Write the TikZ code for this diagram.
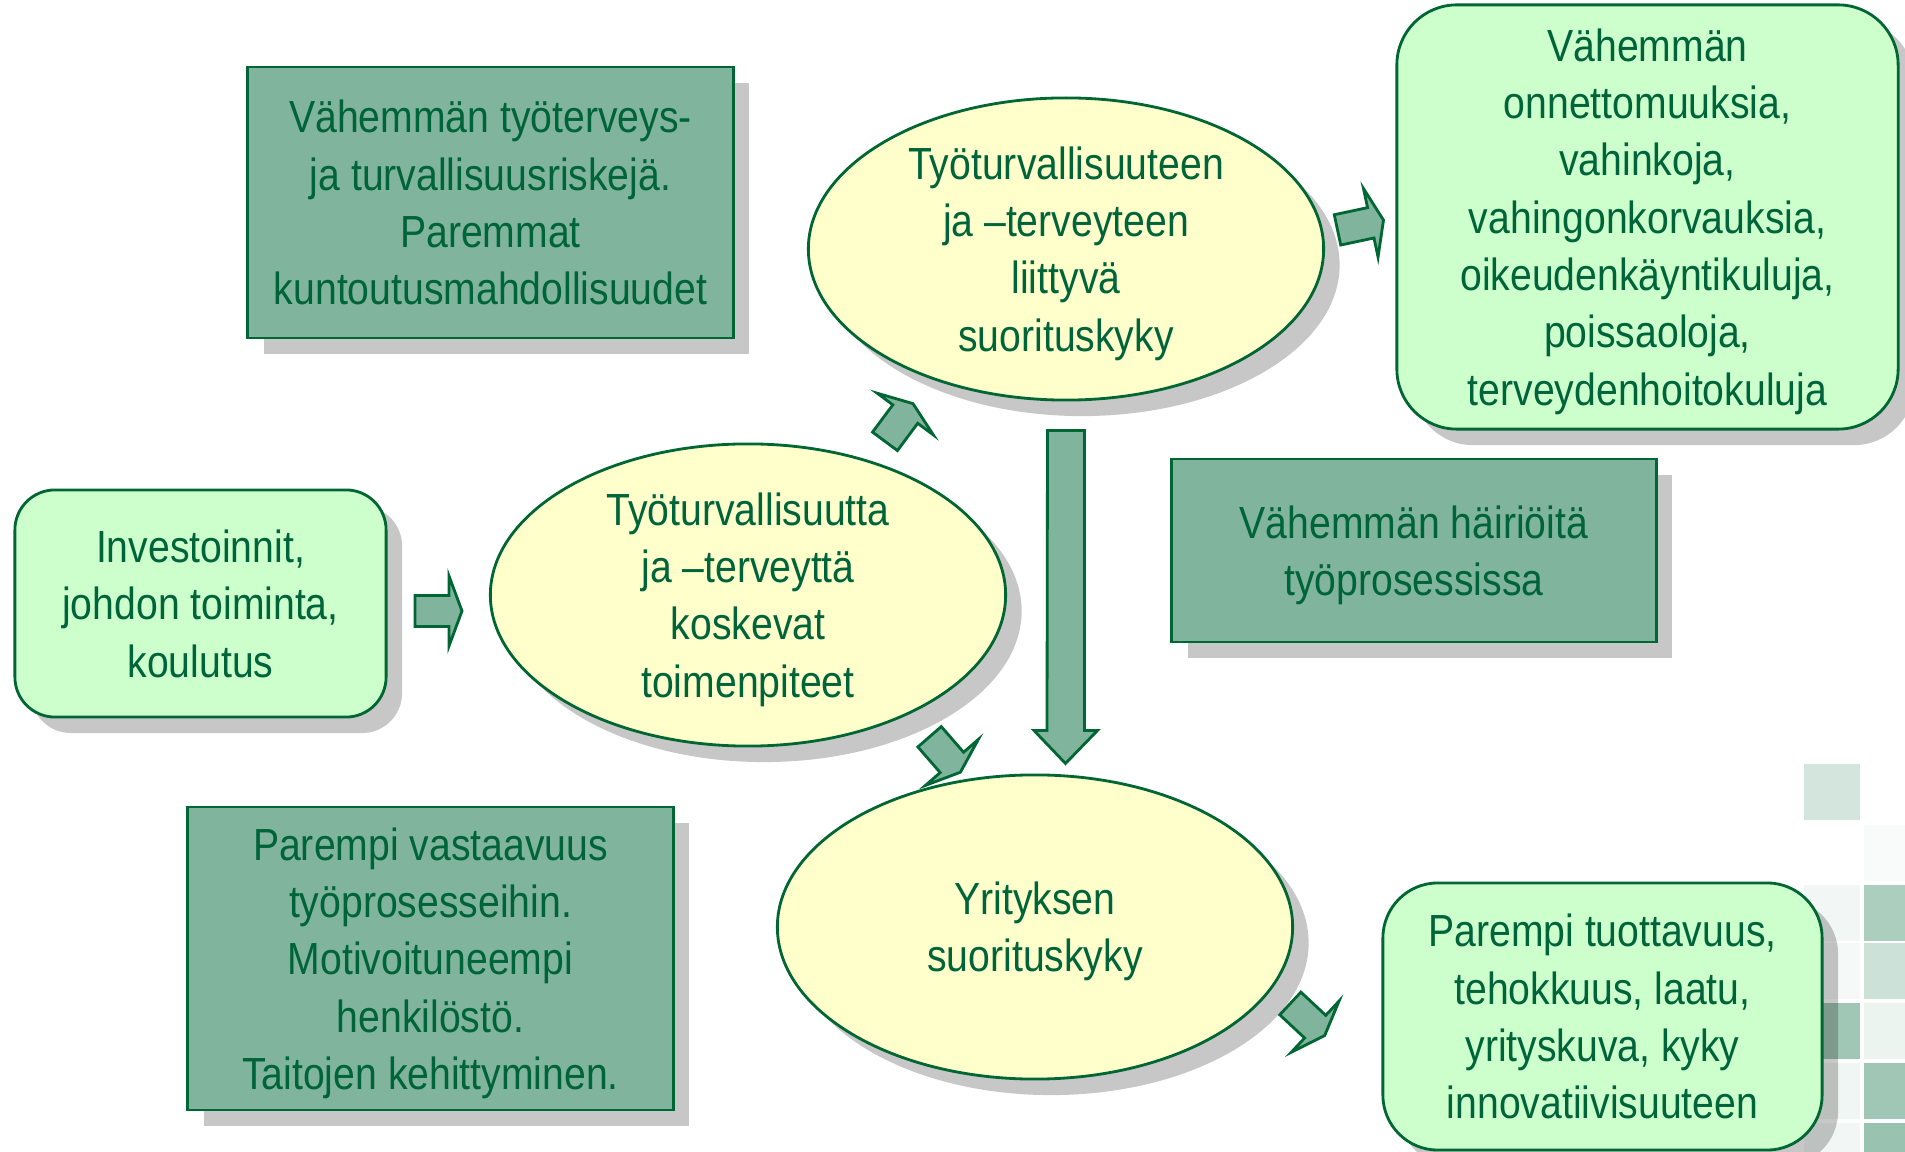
\documentclass[tikz,border=0pt]{standalone}
\usepackage{fontspec}
\setmainfont{Liberation Sans}[FakeStretch=0.87]
\usetikzlibrary{calc, shadows, shapes.geometric}

\definecolor{darkgreen}{HTML}{006633}
\definecolor{textgreen}{HTML}{00643A}
\definecolor{boxgreen}{HTML}{80B49C}
\definecolor{mintgreen}{HTML}{CCFFCC}
\definecolor{paleyellow}{HTML}{FFFFCC}

\tikzset{
  every node/.style={font=\fontsize{12.8}{16.3}\selectfont, text=textgreen, align=center,
    inner sep=0pt, text depth=0pt},
  boxshadow/.style={drop shadow={shadow xshift=0.16cm, shadow yshift=-0.16cm, fill=black, opacity=0.22}},
  effectbox/.style={rectangle, draw=darkgreen, line width=0.8pt, fill=boxgreen, boxshadow},
  roundbox/.style={rectangle, draw=darkgreen, line width=0.8pt, fill=mintgreen, boxshadow},
  perfellipse/.style={ellipse, draw=darkgreen, line width=0.8pt, fill=paleyellow,
    minimum width=5.15cm, minimum height=3.02cm, boxshadow},
  arrowshape/.style={draw=darkgreen, line width=0.8pt, fill=boxgreen},
  pics/blockarrow/.style={code={
    \draw[arrowshape] (-23.5,-15.5) -- (10.5,-15.5) -- (10.5,-35) -- (23.5,0)
      -- (10.5,35) -- (10.5,15.5) -- (-23.5,15.5) -- cycle;
  }}
}

\begin{document}
\begin{tikzpicture}[x=0.01cm, y=-0.01cm]
  \useasboundingbox (0,0) rectangle (1905,1152);

  % faded squares, bottom right corner
  \foreach \sx/\sy/\op in {1804/764/0.35, 1804/885/0.10, 1804/943/0.08, 1804/1003/0.75,
      1804/1063/0.12, 1804/1123/0.10, 1864/825/0.05, 1864/885/0.65, 1864/943/0.40,
      1864/1003/0.15, 1864/1063/0.75, 1864/1123/0.80} {
    \fill[boxgreen, opacity=\op] (\sx,\sy) rectangle ++(56,56);
  }

  % effect boxes
  \node[effectbox, minimum width=4.85cm, minimum height=2.71cm] (risks) at (490.5,202.5)
    {Vähemmän työterveys-\\ja turvallisuusriskejä.\\Paremmat\\kuntoutusmahdollisuudet};
  \node[effectbox, minimum width=4.84cm, minimum height=1.83cm] (disturb) at (1414,550.5)
    {Vähemmän häiriöitä\\työprosessissa};
  \node[effectbox, minimum width=4.85cm, minimum height=3.03cm] (staff) at (430.5,958.5)
    {Parempi vastaavuus\\työprosesseihin.\\Motivoituneempi\\henkilöstö.\\Taitojen kehittyminen.};

  % rounded boxes
  \node[roundbox, rounded corners=0.4cm, minimum width=3.71cm, minimum height=2.27cm] (inv) at (200.5,603.5)
    {Investoinnit,\\johdon toiminta,\\koulutus};
  \node[roundbox, rounded corners=0.6cm, minimum width=5.01cm, minimum height=4.24cm] (costs) at (1647.5,217)
    {Vähemmän\\onnettomuuksia,\\vahinkoja,\\vahingonkorvauksia,\\oikeudenkäyntikuluja,\\poissaoloja,\\terveydenhoitokuluja};
  \node[roundbox, rounded corners=0.55cm, minimum width=4.39cm, minimum height=2.67cm] (prod) at (1602.5,1016.5)
    {Parempi tuottavuus,\\tehokkuus, laatu,\\yrityskuva, kyky\\innovatiivisuuteen};

  % performance ellipses
  \node[perfellipse] (ohsperf) at (1066,249)
    {Työturvallisuuteen\\ja –terveyteen\\liittyvä\\suorituskyky};
  \node[perfellipse] (measures) at (748,595)
    {Työturvallisuutta\\ja –terveyttä\\koskevat\\toimenpiteet};
  \node[perfellipse, minimum height=3.04cm] (company) at (1035,927)
    {Yrityksen\\suorituskyky};

  % block arrows
  \pic at (438.5,611) {blockarrow};
  \pic[rotate=53.4] at (899,422.5) {blockarrow};
  \pic[rotate=12] at (1360.5,225) {blockarrow};
  \pic[rotate=-49] at (945,754.5) {blockarrow};
  \pic[rotate=-43] at (1307.5,1019.5) {blockarrow};
  \draw[arrowshape] ($(ohsperf.south)+(-18.5,29)$) -- ++(37,0) -- ++(0,300) -- ++(13,0)
    -- ($(ohsperf.south)+(-0.5,362)$) -- ++(-31.5,-33) -- ++(13,0) -- cycle;
\end{tikzpicture}
\end{document}
